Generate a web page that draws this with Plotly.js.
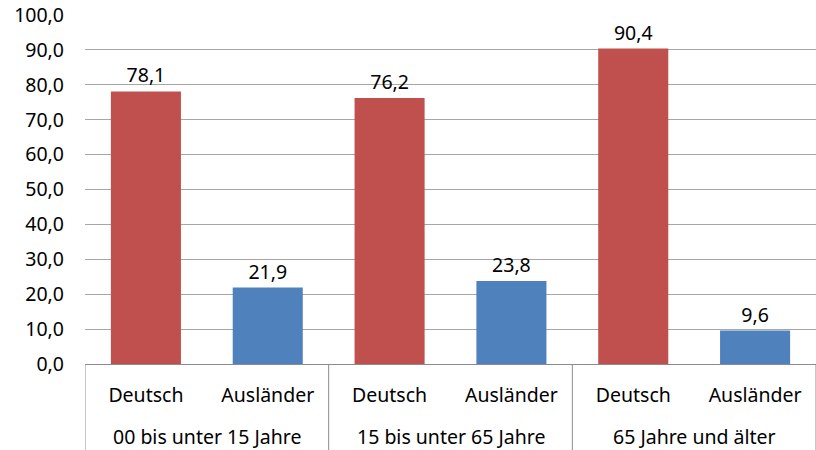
<!DOCTYPE html>
<html>
<head>
<meta charset="utf-8">
<script src="https://cdn.plot.ly/plotly-3.0.1.min.js"></script>
<style>html,body{margin:0;padding:0;background:#fff;}#chart{width:816px;height:450px;}</style>
</head>
<body>
<div id="chart"></div>
<script>
const groups = ["00 bis unter 15 Jahre", "15 bis unter 65 Jahre", "65 Jahre und älter"];
const subcats = ["Deutsch", "Ausländer"];
const deutschValues = [78.1, 76.2, 90.4];
const auslaenderValues = [21.9, 23.8, 9.6];
const yTicks = [0, 10, 20, 30, 40, 50, 60, 70, 80, 90, 100];
const barColors = {Deutsch: '#C0504D', "Ausländer": '#4F81BD'};

// Build positions: one slot per (group, subcategory)
const xs = [], ys = [], labels = [], colors = [];
groups.forEach((g, gi) => {
  const vals = [deutschValues[gi], auslaenderValues[gi]];
  subcats.forEach((s, si) => {
    xs.push(gi * subcats.length + si);
    ys.push(vals[si]);
    labels.push(s);
    colors.push(barColors[s]);
  });
});
const nSlots = xs.length;

const font = {family: 'Noto Sans, Open Sans, sans-serif', size: 19.5, color: '#000'};
const lineColor = '#8C8C8C';

const annotations = groups.map((g, gi) => ({
  x: gi * subcats.length + (subcats.length - 1) / 2,
  xref: 'x', yref: 'paper', y: -0.209,
  yanchor: 'middle', xanchor: 'center',
  text: g, showarrow: false, font: font
}));

const shapes = [];
for (let gi = 0; gi <= groups.length; gi++) {
  shapes.push({
    type: 'line', xref: 'x', yref: 'paper',
    x0: gi * subcats.length - 0.5, x1: gi * subcats.length - 0.5,
    y0: 0, y1: -0.26,
    line: {color: lineColor, width: 1}
  });
}

Plotly.newPlot('chart', [{
  type: 'bar',
  x: xs,
  y: ys,
  marker: {color: colors, line: {width: 0}},
  texttemplate: '%{y:.1f}',
  textposition: 'outside',
  cliponaxis: false,
  textfont: font,
  hoverinfo: 'none'
}], {
  width: 816, height: 450,
  margin: {l: 85, r: 0, t: 15, b: 86},
  paper_bgcolor: '#fff', plot_bgcolor: '#fff',
  separators: ',.',
  bargap: 0.425,
  showlegend: false,
  font: font,
  xaxis: {
    range: [-0.5, nSlots - 0.5],
    tickvals: xs, ticktext: labels,
    showline: true, linecolor: lineColor, linewidth: 1,
    ticks: '', tickfont: font, ticklabelstandoff: 14,
    showgrid: false, zeroline: false, fixedrange: true
  },
  yaxis: {
    range: [0, 100],
    tickvals: yTicks,
    tickformat: '.1f',
    showgrid: true, gridcolor: '#A6A6A6', gridwidth: 1,
    zeroline: false, showline: false,
    ticks: '', ticklabelstandoff: 20,
    tickfont: font
  },
  annotations: annotations,
  shapes: shapes
}, {staticPlot: true});
</script>
</body>
</html>
